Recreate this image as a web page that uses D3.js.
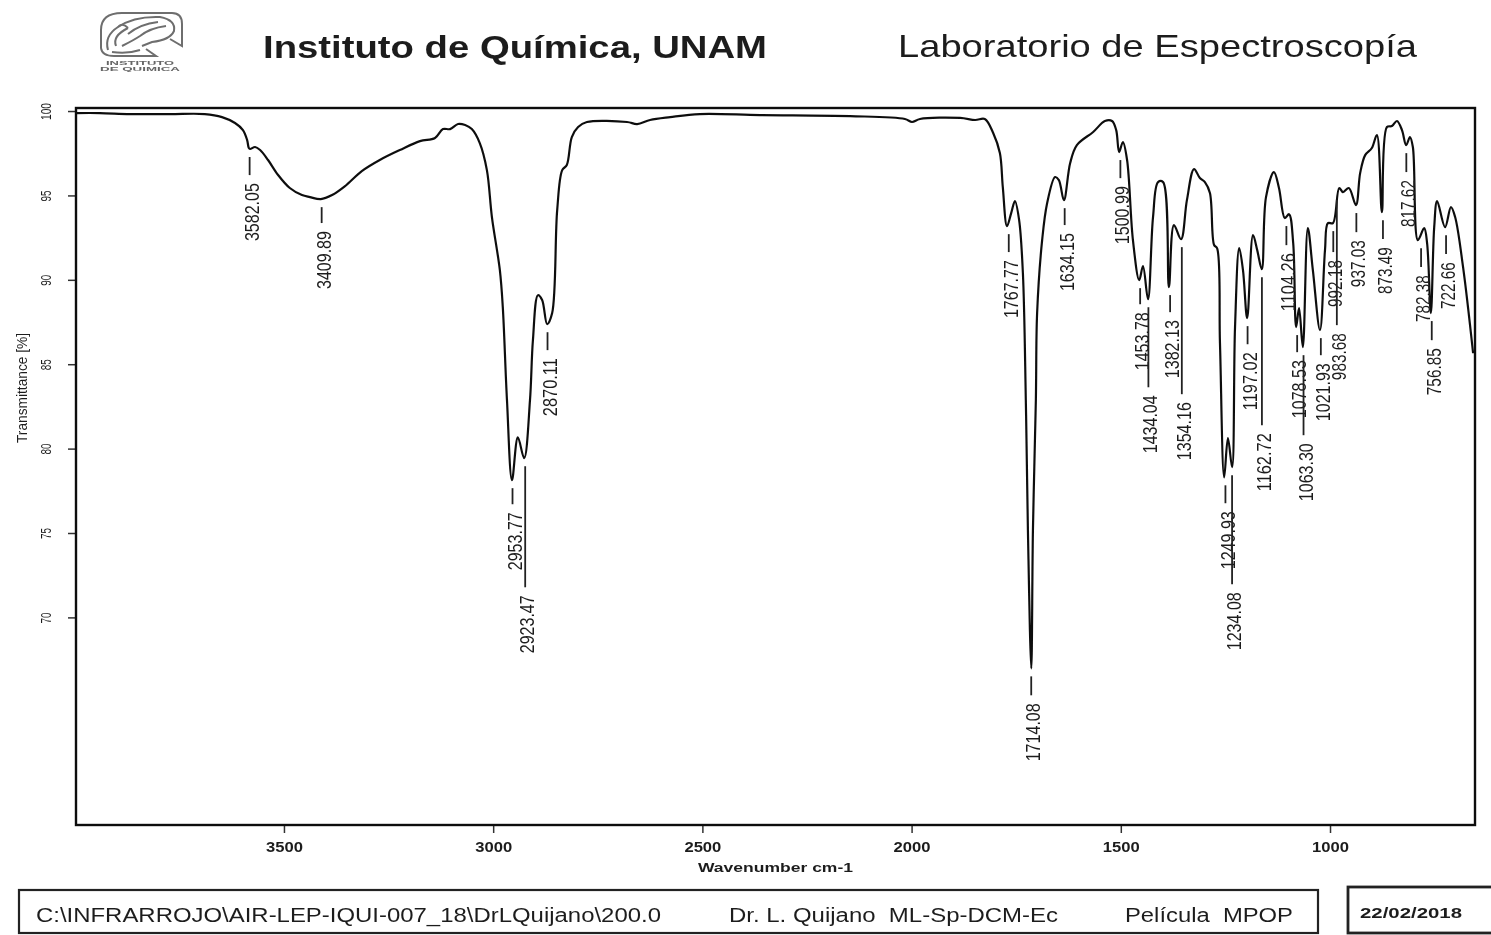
<!DOCTYPE html>
<html>
<head>
<meta charset="utf-8">
<script src="https://cdn.jsdelivr.net/npm/d3@7"></script>
<style>
html, body { margin: 0; padding: 0; background: #fff; overflow: hidden; }
text { font-family: "Liberation Sans", Arial, sans-serif; fill: #1f1f1f; }
</style>
</head>
<body>
<div class="ir-chart"></div>
<script>
// spectrum
var wavenumber = [3997, 3940, 3868, 3772, 3689, 3648, 3617, 3598, 3588, 3584, 3581, 3569, 3557, 3538, 3514, 3486, 3457, 3438, 3412, 3385, 3354, 3314, 3271, 3223, 3175, 3139, 3120, 3103, 3084, 3067, 3051, 3032, 3015, 3003, 2984, 2977, 2967, 2955, 2941, 2926, 2912, 2905, 2893, 2883, 2871, 2859, 2847, 2835, 2824, 2812, 2797, 2776, 2680, 2656, 2625, 2577, 2506, 2362, 2147, 2016, 1999, 1980, 1884, 1848, 1825, 1805, 1789, 1782, 1772, 1762, 1753, 1743, 1734, 1727, 1722, 1714, 1710, 1703, 1700, 1688, 1676, 1657, 1648, 1636, 1621, 1605, 1566, 1538, 1521, 1511, 1504, 1495, 1485, 1471, 1456, 1447, 1435, 1423, 1411, 1399, 1385, 1373, 1356, 1342, 1325, 1311, 1299, 1287, 1277, 1270, 1263, 1253, 1244, 1234, 1227, 1217, 1208, 1198, 1184, 1174, 1163, 1153, 1134, 1122, 1108, 1098, 1088, 1081, 1074, 1065, 1053, 1041, 1024, 1012, 1005, 993, 978, 969, 955, 938, 928, 916, 900, 888, 876, 864, 852, 840, 828, 818, 809, 802, 790, 775, 768, 759, 751, 744, 725, 711, 701, 682, 658];
var transmittance = [99.88, 99.88, 99.82, 99.82, 99.82, 99.64, 99.29, 98.87, 98.28, 97.81, 97.75, 97.87, 97.69, 97.10, 96.21, 95.44, 95.02, 94.90, 94.78, 95.02, 95.55, 96.44, 97.10, 97.69, 98.22, 98.40, 98.93, 98.93, 99.23, 99.17, 98.93, 98.10, 96.50, 93.72, 90.57, 88.38, 82.87, 78.13, 80.67, 79.43, 82.87, 86.42, 89.09, 88.80, 87.37, 88.03, 94.13, 96.50, 96.80, 98.46, 99.05, 99.35, 99.35, 99.23, 99.47, 99.64, 99.82, 99.76, 99.70, 99.53, 99.35, 99.53, 99.59, 99.47, 99.53, 98.70, 97.51, 95.49, 93.18, 93.95, 94.66, 93.54, 90.40, 82.87, 75.16, 66.98, 75.16, 82.87, 88.03, 92.35, 94.55, 96.09, 95.91, 94.72, 96.92, 97.98, 98.76, 99.41, 99.41, 98.87, 97.57, 98.16, 97.10, 92.35, 89.98, 90.81, 88.85, 93.72, 95.79, 95.79, 89.57, 93.24, 92.41, 94.72, 96.56, 96.03, 95.79, 95.14, 92.06, 91.88, 86.25, 78.30, 80.62, 78.90, 87.20, 91.88, 90.57, 87.73, 92.65, 91.76, 90.63, 94.90, 96.38, 95.44, 93.66, 93.89, 92.18, 87.20, 88.32, 86.01, 93.06, 90.57, 87.02, 91.76, 93.36, 93.36, 95.44, 95.20, 95.44, 94.43, 96.32, 97.39, 97.81, 98.58, 94.01, 99.05, 99.11, 99.41, 98.87, 97.98, 98.46, 97.87, 92.35, 93.06, 92.18, 88.03, 93.12, 94.66, 93.12, 94.31, 93.72, 90.75, 85.65];

// picked peaks: label, transmittance at the peak, level where the label starts
var peakLabels = ["3582.05", "3409.89", "2953.77", "2923.47", "2870.11", "1767.77", "1714.08", "1634.15", "1500.99", "1453.78", "1434.04", "1382.13", "1354.16", "1249.93", "1234.08", "1197.02", "1162.72", "1104.26", "1078.53", "1063.30", "1021.93", "992.18", "983.68", "937.03", "873.49", "817.62", "782.38", "756.85", "722.66"];
var peakT = [97.75, 94.78, 78.13, 79.43, 87.37, 93.18, 66.98, 94.72, 97.57, 89.98, 88.85, 89.57, 92.41, 78.30, 78.90, 87.73, 90.63, 93.66, 87.20, 86.01, 87.02, 93.36, 95.20, 94.43, 94.01, 97.98, 92.35, 88.03, 93.12];
var labelT = [95.73, 92.89, 76.23, 71.31, 85.36, 91.17, 64.91, 92.77, 95.55, 88.08, 83.16, 87.61, 82.75, 76.29, 71.49, 85.71, 80.91, 91.58, 85.24, 80.32, 85.06, 91.17, 86.84, 92.35, 91.94, 95.91, 90.28, 85.95, 91.05];

var xTicks = [3500, 3000, 2500, 2000, 1500, 1000];
var yTicks = [100, 95, 90, 85, 80, 75, 70];

var width = 1491;
var height = 935;

var x = d3.scaleLinear().domain([3997, 653.5]).range([76, 1475]);
var y = d3.scaleLinear().domain([100.18, 57.7]).range([108, 825]);

var svgRoot = d3.select(".ir-chart")
    .append("svg")
    .attr("width", width)
    .attr("height", height)
    .style("display", "block");

// the reference is a soft scan
svgRoot.append("defs").append("filter")
    .attr("id", "soft")
    .attr("filterUnits", "userSpaceOnUse")
    .attr("x", 0).attr("y", 0).attr("width", width).attr("height", height)
    .append("feGaussianBlur")
    .attr("stdDeviation", 0.7);

var svg = svgRoot.append("g").attr("filter", "url(#soft)");

svg.append("rect").attr("width", width).attr("height", height).attr("fill", "#fff");

// logo
var logo = svg.append("g")
    .attr("fill", "none")
    .attr("stroke", "#6e6e6e")
    .attr("stroke-width", 2);
logo.append("path").attr("d", "M122 13 L172 13 Q182 13 182 24 L182 46 L170 39 M122 13 Q101 13 101 30 L101 48 Q102 56 114 56 L156 56 L146 49");
logo.append("path").attr("d", "M108 50 Q104 36 118 27 Q134 16 160 17 Q176 20 174 31 Q170 40 152 42 L142 46 M112 52 Q128 54 140 50");
logo.append("path").attr("d", "M116 46 Q112 36 128 28 M128 28 Q122 22 118 27 M122 46 Q134 40 140 36 Q150 28 166 26 M128 34 Q140 24 158 22");
svg.append("text").attr("x", 140).attr("y", 65).attr("text-anchor", "middle")
    .attr("font-size", 5).attr("font-weight", "bold").attr("textLength", 68).attr("lengthAdjust", "spacingAndGlyphs")
    .style("fill", "#666").text("INSTITUTO");
svg.append("text").attr("x", 140).attr("y", 71).attr("text-anchor", "middle")
    .attr("font-size", 5).attr("font-weight", "bold").attr("textLength", 80).attr("lengthAdjust", "spacingAndGlyphs")
    .style("fill", "#666").text("DE QUIMICA");

// header
svg.append("text").attr("x", 263).attr("y", 58)
    .attr("font-size", 32).attr("font-weight", "bold")
    .attr("textLength", 504).attr("lengthAdjust", "spacingAndGlyphs")
    .text("Instituto de Química, UNAM");
svg.append("text").attr("x", 898).attr("y", 57)
    .attr("font-size", 32)
    .attr("textLength", 519).attr("lengthAdjust", "spacingAndGlyphs")
    .text("Laboratorio de Espectroscopía");

// axes
var xAxis = d3.axisBottom(x).tickValues(xTicks).tickSize(8).tickPadding(9).tickFormat(d3.format("d"));
var yAxis = d3.axisLeft(y).tickValues(yTicks).tickSize(8).tickFormat(d3.format("d"));

var gx = svg.append("g").attr("transform", "translate(0,825)").call(xAxis);
gx.select(".domain").remove();
gx.selectAll("line").attr("stroke", "#333").attr("stroke-width", 1.5);
gx.selectAll("text")
    .attr("font-size", 14).attr("font-weight", "bold")
    .attr("textLength", 37).attr("lengthAdjust", "spacingAndGlyphs")
    .style("font-family", "'Liberation Sans', Arial, sans-serif");

var gy = svg.append("g").attr("transform", "translate(76,0)").call(yAxis);
gy.select(".domain").remove();
gy.selectAll("line").attr("stroke", "#333").attr("stroke-width", 1.5);
gy.selectAll("text")
    .attr("font-size", 14)
    .attr("x", 0).attr("dy", 0)
    .attr("text-anchor", "middle")
    .attr("transform", "translate(-25,0) rotate(-90)")
    .attr("lengthAdjust", "spacingAndGlyphs")
    .attr("textLength", function (d) { return d == 100 ? 17 : 11; })
    .style("font-family", "'Liberation Sans', Arial, sans-serif");

svg.append("rect")
    .attr("x", 76).attr("y", 108)
    .attr("width", 1399).attr("height", 717)
    .attr("fill", "none")
    .attr("stroke", "#111")
    .attr("stroke-width", 2.4);

svg.append("text")
    .attr("transform", "translate(27,388) rotate(-90)")
    .attr("text-anchor", "middle")
    .attr("font-size", 14)
    .attr("textLength", 110).attr("lengthAdjust", "spacingAndGlyphs")
    .text("Transmittance [%]");

svg.append("text")
    .attr("x", 775.5).attr("y", 872)
    .attr("text-anchor", "middle")
    .attr("font-size", 13).attr("font-weight", "bold")
    .attr("textLength", 155).attr("lengthAdjust", "spacingAndGlyphs")
    .text("Wavenumber cm-1");

// spectrum
var line = d3.line()
    .x(function (d) { return x(d); })
    .y(function (d, i) { return y(transmittance[i]); })
    .curve(d3.curveCatmullRom.alpha(0.5));

svg.append("path")
    .attr("d", line(wavenumber))
    .attr("fill", "none")
    .attr("stroke", "#111")
    .attr("stroke-width", 2.2);

// peak picks
var peaks = svg.selectAll(".peak")
    .data(peakLabels)
    .enter()
    .append("g")
    .attr("class", "peak");

peaks.append("line")
    .attr("x1", function (d) { return x(+d); })
    .attr("x2", function (d) { return x(+d); })
    .attr("y1", function (d, i) { return y(peakT[i]) + 8; })
    .attr("y2", function (d, i) { return y(labelT[i]) - 8; })
    .attr("stroke", "#222")
    .attr("stroke-width", 1.8);

peaks.append("text")
    .attr("transform", function (d, i) {
        return "translate(" + (x(+d) + 1.5) + "," + y(labelT[i]) + ") rotate(-90)";
    })
    .attr("text-anchor", "end")
    .attr("dy", "0.36em")
    .attr("font-size", 21)
    .attr("textLength", function (d) { return d.length == 7 ? 58 : 47; })
    .attr("lengthAdjust", "spacingAndGlyphs")
    .text(function (d) { return d; });

// footer boxes
svg.append("rect").attr("x", 19).attr("y", 890).attr("width", 1299).attr("height", 43)
    .attr("fill", "none").attr("stroke", "#222").attr("stroke-width", 2.2);
svg.append("rect").attr("x", 1348).attr("y", 887).attr("width", 160).attr("height", 46)
    .attr("fill", "none").attr("stroke", "#222").attr("stroke-width", 2.8);

var footerText = ["C:\\INFRARROJO\\AIR-LEP-IQUI-007_18\\DrLQuijano\\200.0", "Dr. L. Quijano  ML-Sp-DCM-Ec", "Película  MPOP"];
var footerX = [36, 729, 1125];
var footerLen = [625, 329, 168];

svg.selectAll(".foot")
    .data(footerText)
    .enter()
    .append("text")
    .attr("class", "foot")
    .attr("x", function (d, i) { return footerX[i]; })
    .attr("y", 922)
    .attr("font-size", 20)
    .attr("xml:space", "preserve")
    .style("white-space", "pre")
    .attr("textLength", function (d, i) { return footerLen[i]; })
    .attr("lengthAdjust", "spacingAndGlyphs")
    .text(function (d) { return d; });

svg.append("text")
    .attr("x", 1360).attr("y", 918)
    .attr("font-size", 15).attr("font-weight", "bold")
    .attr("textLength", 102).attr("lengthAdjust", "spacingAndGlyphs")
    .text("22/02/2018");
</script>
</body>
</html>
